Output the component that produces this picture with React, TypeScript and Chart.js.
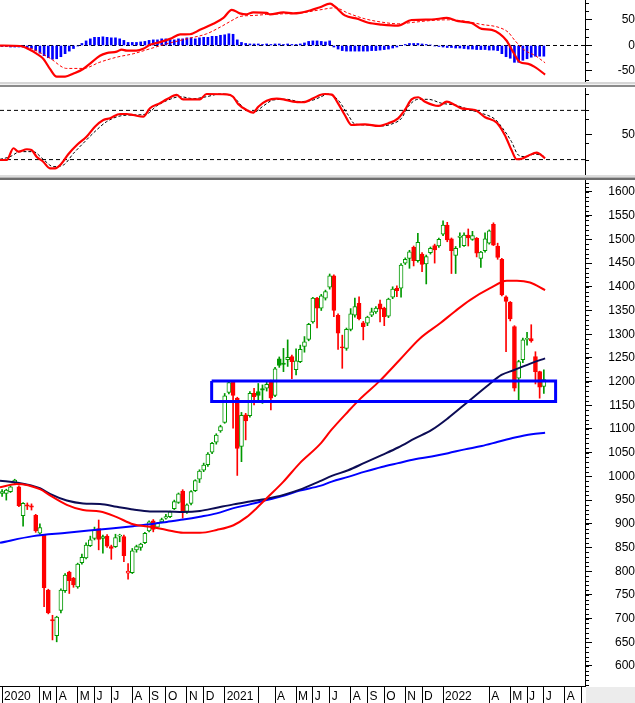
import React, { useEffect, useRef } from "react";
import { Chart, registerables } from "chart.js";

Chart.register(...registerables);

// ---------------- DATA ----------------
// weekly candles, first bar = week index -1 (week of 30 Dec 2019)
const FIRST_BAR = -1;

const OPEN = [
  964, 964, 968, 987, 978, 917, 940, 938, 918, 880,
  876, 760, 698, 664, 717, 759, 798, 785, 767, 818,
  828, 854, 869, 890, 869, 874, 852, 852, 874, 873,
  796, 797, 845, 850, 860, 885, 906, 893, 904, 912,
  915, 932, 945, 969, 926, 943, 970, 994, 1013, 1025,
  1051, 1072, 1096, 1114, 1177, 1200, 1165, 1063, 1130, 1128,
  1175, 1179, 1185, 1186, 1200, 1171, 1248, 1239, 1246, 1253,
  1225, 1242, 1274, 1289, 1326, 1376, 1355, 1376, 1399, 1423,
  1340, 1273, 1270, 1310, 1340, 1365, 1324, 1323, 1340, 1347,
  1364, 1355, 1338, 1378, 1397, 1397, 1450, 1460, 1483, 1455,
  1469, 1448, 1472, 1487, 1486, 1511, 1530, 1501, 1466, 1504,
  1487, 1509, 1500, 1502, 1460, 1476, 1492, 1532, 1486, 1458,
  1379, 1367, 1316, 1207, 1246, 1289, 1291, 1253, 1221, 1190,
];
const HIGH = [
  972, 973, 980, 994, 980, 945, 944, 942, 920, 900,
  878, 762, 707, 705, 763, 795, 800, 787, 817, 836,
  860, 874, 893, 908, 876, 877, 855, 878, 878, 876,
  816, 848, 855, 859, 882, 906, 909, 903, 912, 920,
  927, 950, 965, 972, 942, 970, 993, 1014, 1028, 1050,
  1072, 1090, 1108, 1175, 1200, 1202, 1167, 1135, 1133, 1179,
  1186, 1196, 1193, 1200, 1203, 1230, 1252, 1270, 1288, 1256,
  1269, 1277, 1295, 1323, 1378, 1378, 1384, 1393, 1427, 1425,
  1343, 1298, 1313, 1354, 1376, 1379, 1327, 1338, 1355, 1358,
  1372, 1357, 1376, 1400, 1402, 1449, 1461, 1477, 1486, 1513,
  1472, 1467, 1484, 1490, 1503, 1539, 1536, 1503, 1485, 1514,
  1514, 1522, 1517, 1504, 1475, 1514, 1520, 1535, 1492, 1460,
  1381, 1369, 1318, 1245, 1292, 1304, 1320, 1263, 1222, 1225,
];
const LOW = [
  958, 950, 966, 985, 936, 895, 930, 929, 882, 878,
  725, 710, 655, 651, 712, 755, 753, 766, 764, 815,
  826, 852, 866, 845, 838, 850, 825, 850, 862, 820,
  783, 795, 840, 844, 858, 883, 883, 890, 902, 910,
  913, 930, 943, 912, 922, 940, 968, 987, 1010, 1021,
  1048, 1068, 1093, 1112, 1174, 1102, 1002, 1031, 1077, 1125,
  1151, 1158, 1154, 1180, 1140, 1168, 1230, 1221, 1232, 1206,
  1214, 1240, 1262, 1286, 1323, 1313, 1350, 1372, 1395, 1337,
  1268, 1228, 1266, 1307, 1336, 1330, 1288, 1318, 1337, 1344,
  1326, 1318, 1335, 1375, 1379, 1378, 1447, 1439, 1444, 1452,
  1432, 1406, 1469, 1450, 1483, 1508, 1495, 1428, 1428, 1483,
  1485, 1486, 1498, 1463, 1441, 1473, 1490, 1487, 1458, 1381,
  1263, 1328, 1180, 1159, 1240, 1277, 1283, 1195, 1165, 1175,
];
const CLOSE = [
  968, 971, 978, 992, 938, 943, 937, 935, 885, 892,
  765, 712, 695, 703, 760, 792, 780, 771, 815, 829,
  855, 866, 887, 867, 873, 853, 848, 871, 876, 833,
  800, 843, 852, 857, 880, 904, 888, 901, 909, 915,
  925, 947, 963, 925, 940, 968, 991, 1011, 1024, 1047,
  1070, 1087, 1105, 1170, 1198, 1171, 1059, 1129, 1117, 1175,
  1168, 1171, 1182, 1194, 1165, 1227, 1234, 1236, 1251, 1242,
  1244, 1268, 1284, 1321, 1376, 1355, 1381, 1390, 1423, 1350,
  1302, 1271, 1310, 1343, 1358, 1333, 1316, 1336, 1347, 1355,
  1353, 1337, 1374, 1395, 1392, 1446, 1458, 1474, 1455, 1494,
  1447, 1464, 1481, 1478, 1500, 1530, 1499, 1476, 1481, 1507,
  1509, 1503, 1508, 1471, 1473, 1501, 1518, 1488, 1462, 1383,
  1369, 1332, 1186, 1242, 1288, 1291, 1286, 1221, 1188, 1204,
];

// MACD histogram, one value per bar
const MACD_HIST = [
  -2, -2, -3, -3, -3, -3, -4, -6, -10, -15,
  -20, -24, -27, -26, -22, -16, -11, -6, -1, 4,
  9, 13, 16, 16, 17, 16, 15, 15, 13, 10,
  6, 6, 6, 7, 8, 10, 11, 11, 13, 13,
  11, 11, 13, 13, 15, 15, 13, 15, 16, 16,
  18, 18, 20, 21, 23, 22, 11, 6, 4, 3,
  3, 3, 2, 3, 2, 3, 3, 2, 3, 2,
  2, 3, 5, 8, 9, 9, 8, 7, 9, -3,
  -7, -10, -11, -11, -11, -11, -11, -11, -10, -10,
  -9, -8, -7, -5, -3, 0, 2, 4, 4, 4,
  3, 2, 1, -1, -2, -3, -4, -4, -5, -5,
  -6, -7, -7, -8, -8, -8, -9, -9, -10, -16,
  -22, -25, -33, -33, -29, -26, -23, -21, -21, -21,
];

// [week index, value] readings
const MACD_LINE: [number, number][] = [
  [-1.5, 0], [3.3, -1], [5.6, -8.5], [7.2, -16], [8.8, -26], [10.4, -46], [12, -61], [14, -61],
  [16, -55], [18.3, -46], [20.3, -33], [22.3, -20], [23.9, -15], [26.3, -12], [27.5, -8], [28.7, -10],
  [31, -10], [32.6, -6.5], [34.2, 1.3], [36.6, 6.5], [39, 13], [41.4, 21.6], [43.7, 22], [46.1, 30.7],
  [49.3, 42.5], [51.7, 54], [53.7, 70], [55.6, 63], [57.2, 61], [58.8, 65], [62, 64], [62.8, 61],
  [66, 65], [68.3, 63], [69.9, 64], [72.3, 68.6], [74.7, 75], [77.1, 82], [78.3, 76], [80.6, 59],
  [83.8, 52], [86.2, 44.5], [89.4, 41], [93.3, 39], [96.5, 50], [101.3, 51], [104.9, 54], [107.6, 47.7],
  [110.8, 44], [113.2, 32.7], [115.6, 30.7], [117.5, 23], [119.1, 9.8], [120.7, -13], [122.3, -32.7],
  [124.3, -36], [125.9, -42.5], [128.3, -57],
];
const MACD_SIGNAL: [number, number][] = [
  [-1.5, -1], [3.3, -2], [5.6, -5], [10.4, -25], [14.4, -45], [18.3, -45], [22.3, -32.7], [26.3, -22.9],
  [30.2, -16.3], [34.2, -6.5], [38.2, 3.3], [42.9, 13], [47.7, 22.9], [50.9, 35.9], [54, 50.3],
  [55.6, 56.9], [58.8, 58.8], [62, 60.8], [66, 62.1], [69.9, 63.4], [74.7, 69.9], [78.3, 73.9],
  [81.4, 63.4], [85.4, 52.3], [89.4, 45.8], [93.3, 42.5], [97.3, 45.8], [101.3, 49], [105.2, 50.3],
  [109.2, 47.7], [113.2, 41.2], [117.1, 35.9], [119.5, 26.1], [121.1, 9.8], [123.5, -9.8],
  [125.9, -19.6], [128.3, -34],
];

const STOCH_K: [number, number][] = [
  [-1.5, 19.5], [0.1, 19.5], [1.7, 33.8], [2.9, 29.6], [4.9, 32.6], [6.0, 31.7], [7.2, 23.5], [8.8, 17.4],
  [10.4, 9.4], [11.6, 9.4], [13.2, 15.5], [14.8, 26.8], [16.8, 37.8], [19.1, 47.9], [21.1, 60.1],
  [23.1, 68.3], [24.7, 70.4], [27.1, 75.6], [28.7, 75.6], [30.2, 74.4], [32.6, 72.3], [34.2, 82.6],
  [36.6, 88.7], [38.2, 93.5], [40.6, 98.8], [42.1, 93.5], [46.1, 93.5], [47.7, 100], [52.5, 99.6],
  [54.0, 96.7], [55.2, 87.8], [57.2, 80.5], [58.8, 77.2], [60, 84.5], [62, 91.8], [64.4, 94.3],
  [66, 93.5], [68.3, 90.6], [70.7, 89.9], [73.1, 94.8], [74.7, 98.8], [75.9, 100], [77.5, 99.2],
  [79.0, 88.6], [80.6, 74.4], [82.2, 62.2], [85.4, 63], [88.6, 61], [91.0, 64.3], [93.3, 70.3],
  [94.9, 80.5], [96.5, 93.5], [98.1, 96], [99.7, 90.6], [102.9, 85.4], [104.9, 90.6], [106.8, 86.6],
  [108.4, 82.5], [111.6, 80.5], [114, 71.6], [116.8, 65], [118.7, 50], [120.3, 31.7], [121.5, 20.4],
  [122.7, 21], [124.3, 24.8], [126.3, 28.4], [128.3, 21.6],
];
const STOCH_D: [number, number][] = [
  [-1.5, 20.3], [0.9, 23.5], [3.3, 29.7], [6.4, 29.7], [8.8, 20.3], [11.2, 11.4], [13.6, 13.4],
  [16, 27.6], [18.3, 39.8], [21.5, 56.1], [23.9, 66.3], [27.1, 73.2], [30.2, 74.4], [33.4, 75.6],
  [35.8, 85.4], [38.2, 91.9], [41.4, 96.7], [44.5, 94.3], [47.7, 96.7], [50.9, 100], [54, 96.7],
  [56.4, 83.7], [58.8, 77.2], [61.2, 85.4], [63.6, 92.7], [66.8, 93.5], [69.9, 90.7], [73.1, 92.7],
  [74.7, 96], [76.7, 100], [79, 92.7], [81.4, 74.4], [83, 63.4], [86.2, 62.2], [89.4, 61],
  [91.8, 63.4], [94.1, 70.3], [95.7, 84.6], [98.1, 93.5], [100.5, 93.5], [103.7, 88.6],
  [106.8, 86.6], [110, 81.3], [113.2, 76.4], [116.4, 69.1], [117.9, 60.2], [120.3, 41.9],
  [121.9, 25.6], [123.5, 23.6], [125.9, 26.8], [128.3, 23.6],
];

const MA_RED: [number, number][] = [
  [-1.5, 977], [2.5, 984], [8, 973], [10.4, 960], [14.4, 940], [18.3, 929], [22.3, 926], [26.3, 914],
  [30.2, 899], [34.2, 894], [38.2, 887], [42.1, 881], [46.1, 881], [50.1, 887], [54.1, 897],
  [57.2, 914], [59.6, 933], [62, 954], [66, 989], [69.9, 1028], [74.7, 1068], [77.4, 1098],
  [81.4, 1137], [84.2, 1163], [89, 1202], [93.7, 1246], [98.5, 1291], [103.3, 1323], [106.8, 1348],
  [110.4, 1372], [115.2, 1397], [119.2, 1413], [121.6, 1413], [124.7, 1409], [128.3, 1393],
];
const MA_NAVY: [number, number][] = [
  [-1.5, 991], [2.5, 987], [8, 975], [10.4, 963], [14.4, 949], [18.3, 943], [22.3, 942], [26.3, 936],
  [30.2, 930], [34.2, 926], [38.2, 926], [42.1, 925], [46.1, 927], [50.1, 934], [54.1, 941],
  [58, 947], [62, 953], [66, 961], [69.9, 972], [74.7, 990], [77.5, 1001], [81.4, 1013],
  [85.4, 1029], [89.4, 1045], [93.3, 1061], [97.3, 1080], [101.3, 1098], [105.2, 1123], [110, 1158],
  [114.8, 1193], [117.9, 1214], [121.1, 1225], [125.1, 1239], [128.3, 1249],
];
const MA_BLUE: [number, number][] = [
  [-1.5, 860], [6.4, 874], [14.4, 881], [22.3, 888], [30.2, 895], [34.2, 899], [38.2, 904],
  [42.1, 909], [46.1, 915], [50.1, 922], [54.1, 933], [58, 941], [62, 950], [66, 959], [69.9, 970],
  [74.7, 980], [77.5, 989], [81.4, 999], [85.4, 1010], [89.4, 1020], [93.3, 1028], [97.3, 1036],
  [101.3, 1042], [105.2, 1049], [109.2, 1057], [113.2, 1064], [117.1, 1073], [121.1, 1082],
  [125.1, 1089], [128.3, 1092],
];

// support zone (box)
const ZONE_FROM = 48.9;
const ZONE_TO = 130.8;
const ZONE_LOW = 1158;
const ZONE_HIGH = 1201;

// x-axis month separators (bar index of first bar of month) and labels
const MONTH_TICKS = [-1, 8, 12, 17, 21, 25, 30, 34, 38, 43, 47, 52, 60, 64, 69, 73, 77, 82, 86, 90, 95, 99, 104, 115, 120, 124, 128, 133, 137];
const MONTH_LABELS = ["2020", "M", "A", "M", "J", "J", "A", "S", "O", "N", "D", "2021", "", "A", "M", "J", "J", "A", "S", "O", "N", "D", "2022", "A", "M", "J", "J", "A", ""];

const PRICE_TICKS = [600, 650, 700, 750, 800, 850, 900, 950, 1000, 1050, 1100, 1150, 1200, 1250, 1300, 1350, 1400, 1450, 1500, 1550, 1600];
const MACD_TICKS = [-50, 0, 50];
const MACD_MINOR = [-66.7, -33.3, -16.7, 16.7, 33.3, 66.7, 83.3];
const STOCH_TICKS = [50];
const STOCH_MINOR = [20, 40, 70, 80, 100];
const STOCH_LEVELS = [20, 80];

// ---------------- STYLE ----------------
const X_MIN = -1.5;
const X_MAX = 137.8;
const AXIS_W = 50;
const LABEL_RIGHT = 46;
const FONT_FAMILY = "'Liberation Sans', Arial, Helvetica, sans-serif";
const FONT = { family: FONT_FAMILY, size: 12 };
const RED = "#ff0000";
const GREEN = "#009900";
const NAVY = "#0c0c55";
const BLUE = "#0000ff";

function textWidth(t: string): number {
  const ctx = document.createElement("canvas").getContext("2d")!;
  ctx.font = `normal 12px ${FONT_FAMILY}`;
  return ctx.measureText(t).width;
}

const minorTicks = {
  id: "minorTicks",
  afterDraw(chart: any, _a: any, opts: any) {
    const s = chart.scales.y;
    if (!s || !opts) return;
    let values: number[] = opts.values || [];
    if (opts.step) {
      values = [];
      for (let v = Math.ceil(s.min / opts.step) * opts.step; v <= s.max; v += opts.step) values.push(v);
    }
    const ctx = chart.ctx;
    ctx.save();
    ctx.strokeStyle = "#000";
    ctx.lineWidth = 1;
    for (const v of values) {
      const y = Math.round(s.getPixelForValue(v)) + 0.5;
      ctx.beginPath();
      ctx.moveTo(s.left, y);
      ctx.lineTo(s.left + (opts.length || 4), y);
      ctx.stroke();
    }
    ctx.restore();
  },
};

function yAxis(min: number, max: number, ticks: number[]) {
  const tl = 7;
  const widest = Math.max(...ticks.map((v) => textWidth(String(v))));
  return {
    type: "linear",
    position: "right",
    min,
    max,
    afterFit: (s: any) => {
      s.width = AXIS_W;
      s.paddingTop = 0;
      s.paddingBottom = 0;
    },
    afterBuildTicks: (s: any) => {
      s.ticks = ticks.map((v) => ({ value: v }));
    },
    ticks: {
      autoSkip: false,
      crossAlign: "far",
      padding: LABEL_RIGHT - tl - widest,
      color: "#000",
      font: FONT,
      callback: (v: number) => String(v),
    },
    grid: { drawOnChartArea: false, drawTicks: true, tickLength: tl, tickColor: "#000", color: "#000" },
    border: { display: true, color: "#000", width: 1 },
  };
}

const hiddenX = { type: "linear", min: X_MIN, max: X_MAX, display: false, offset: false, grid: { offset: false } };

const baseOptions = {
  responsive: false,
  maintainAspectRatio: false,
  devicePixelRatio: 1,
  animation: false,
  events: [],
  layout: { padding: 0 },
};

const pts = (a: [number, number][]) => a.map(([x, y]) => ({ x, y }));
const levelLine = (y: number) => ({
  type: "line",
  data: [{ x: X_MIN, y }, { x: X_MAX, y }],
  borderColor: "#000",
  borderWidth: 1,
  borderDash: [4, 3],
  pointRadius: 0,
  order: 5,
});

function macdConfig(): any {
  const bars = MACD_HIST.map((_, k) => FIRST_BAR + k);
  return {
    type: "bar",
    data: {
      datasets: [
        levelLine(0),
        { type: "bar", data: bars.map((x, k) => ({ x, y: MACD_HIST[k] })), backgroundColor: BLUE, barThickness: 2, grouped: false, order: 4 },
        { type: "line", data: pts(MACD_SIGNAL), borderColor: RED, borderWidth: 1, borderDash: [3, 2], pointRadius: 0, cubicInterpolationMode: "monotone", order: 2 },
        { type: "line", data: pts(MACD_LINE), borderColor: RED, borderWidth: 2.2, pointRadius: 0, cubicInterpolationMode: "monotone", order: 1 },
      ],
    },
    options: {
      ...baseOptions,
      plugins: { legend: { display: false }, tooltip: { enabled: false }, minorTicks: { values: MACD_MINOR, length: 4 } },
      scales: { x: hiddenX, y: yAxis(-71.6, 89.2, MACD_TICKS) },
    },
    plugins: [minorTicks],
  };
}

function stochConfig(): any {
  return {
    type: "line",
    data: {
      datasets: [
        ...STOCH_LEVELS.map(levelLine),
        { type: "line", data: pts(STOCH_D), borderColor: "#000", borderWidth: 1, borderDash: [3, 2], pointRadius: 0, cubicInterpolationMode: "monotone", order: 2 },
        { type: "line", data: pts(STOCH_K), borderColor: RED, borderWidth: 2.2, pointRadius: 0, cubicInterpolationMode: "monotone", order: 1 },
      ],
    },
    options: {
      ...baseOptions,
      plugins: { legend: { display: false }, tooltip: { enabled: false }, minorTicks: { values: STOCH_MINOR, length: 4 } },
      scales: { x: hiddenX, y: yAxis(1.2, 107.3, STOCH_TICKS) },
    },
    plugins: [minorTicks],
  };
}

function priceConfig(): any {
  const bars = OPEN.map((_, k) => FIRST_BAR + k);
  const color = OPEN.map((o, k) => (CLOSE[k] >= (k > 0 ? CLOSE[k - 1] : o) ? GREEN : RED));
  const fill = OPEN.map((o, k) => (CLOSE[k] > o ? "#ffffff" : color[k]));
  return {
    type: "bar",
    data: {
      datasets: [
        { type: "bar", data: bars.map((x, k) => ({ x, y: [LOW[k], HIGH[k]] })), backgroundColor: color, borderWidth: 0, barThickness: 1, grouped: false, order: 6 },
        { type: "bar", data: bars.map((x, k) => ({ x, y: [OPEN[k], CLOSE[k]] })), backgroundColor: fill, borderColor: color, borderWidth: 1, borderSkipped: false, barThickness: 4, minBarLength: 1, grouped: false, order: 5 },
        { type: "line", data: pts(MA_BLUE), borderColor: BLUE, borderWidth: 2, pointRadius: 0, cubicInterpolationMode: "monotone", order: 3 },
        { type: "line", data: pts(MA_NAVY), borderColor: NAVY, borderWidth: 2, pointRadius: 0, cubicInterpolationMode: "monotone", order: 2 },
        { type: "line", data: pts(MA_RED), borderColor: RED, borderWidth: 2, pointRadius: 0, cubicInterpolationMode: "monotone", order: 1 },
        {
          type: "line",
          data: [
            { x: ZONE_FROM, y: ZONE_HIGH },
            { x: ZONE_TO, y: ZONE_HIGH },
            { x: ZONE_TO, y: ZONE_LOW },
            { x: ZONE_FROM, y: ZONE_LOW },
            { x: ZONE_FROM, y: ZONE_HIGH },
          ],
          borderColor: BLUE,
          borderWidth: 3,
          borderJoinStyle: "miter",
          pointRadius: 0,
          tension: 0,
          order: 0,
        },
      ],
    },
    options: {
      ...baseOptions,
      plugins: { legend: { display: false }, tooltip: { enabled: false }, minorTicks: { step: 10, length: 4 } },
      scales: {
        x: {
          type: "linear",
          min: X_MIN,
          max: X_MAX,
          offset: false,
          afterFit: (s: any) => {
            s.height = 17;
            s.paddingLeft = 0;
            s.paddingRight = 0;
          },
          afterBuildTicks: (s: any) => {
            s.ticks = MONTH_TICKS.map((v) => ({ value: v }));
          },
          ticks: {
            autoSkip: false,
            maxRotation: 0,
            minRotation: 0,
            align: "start",
            labelOffset: 2,
            padding: -14,
            color: "#000",
            font: FONT,
            callback: (_v: number, i: number) => MONTH_LABELS[i],
          },
          grid: { drawOnChartArea: false, drawTicks: true, tickLength: 17, color: "#000", tickColor: "#000", offset: false },
          border: { display: true, color: "#000", width: 1 },
        },
        y: yAxis(557.8, 1625.3, PRICE_TICKS),
      },
    },
    plugins: [minorTicks],
  };
}

export default function App() {
  const r1 = useRef<HTMLCanvasElement>(null);
  const r2 = useRef<HTMLCanvasElement>(null);
  const r3 = useRef<HTMLCanvasElement>(null);

  useEffect(() => {
    const charts = [
      new Chart(r1.current!, macdConfig()),
      new Chart(r2.current!, stochConfig()),
      new Chart(r3.current!, priceConfig()),
    ];
    return () => charts.forEach((c) => c.destroy());
  }, []);

  const abs = (top: number, height: number): React.CSSProperties => ({
    position: "absolute",
    left: 0,
    top,
    width: 635,
    height,
    display: "block",
  });

  return (
    <div style={{ position: "absolute", left: 0, top: 0, width: 635, height: 703, background: "#fff", overflow: "hidden" }}>
      <canvas ref={r1} width={635} height={82} style={abs(0, 82)} />
      <div style={{ ...abs(82, 6), background: "linear-gradient(to bottom, #d6d6d6 0px, #d6d6d6 2px, #f2f2f2 2px, #f2f2f2 3px, #8a8a8a 3px, #8a8a8a 5px, #ffffff 5px)" }} />
      <canvas ref={r2} width={635} height={87} style={abs(88, 87)} />
      <div style={{ ...abs(175, 5), background: "linear-gradient(to bottom, #dcdcdc 0px, #dcdcdc 2px, #b4b4b4 2px, #b4b4b4 3px, #6e6e6e 3px)" }} />
      <canvas ref={r3} width={635} height={523} style={abs(180, 523)} />
      <div style={{ position: "absolute", left: 586, top: 687, width: 49, height: 16, background: "#ececec" }} />
    </div>
  );
}
